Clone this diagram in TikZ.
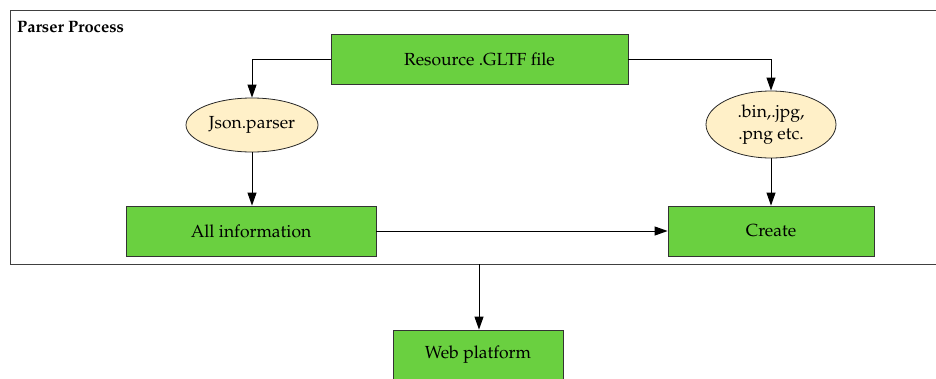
\documentclass[tikz,border=0pt]{standalone}
\usepackage[T1]{fontenc}
\usepackage{mathpazo}
\usetikzlibrary{arrows.meta,shapes.geometric}
\definecolor{boxgreen}{RGB}{106,208,64}
\definecolor{ellfill}{RGB}{255,240,200}
\tikzset{
  greenbox/.style={draw=black!80, fill=boxgreen, line width=0.8pt, minimum height=50pt, inner sep=0pt, font=\fontsize{17.5}{21}\selectfont},
  ellnode/.style={draw=black!85, ellipse, fill=ellfill, line width=0.8pt, inner sep=0pt, font=\fontsize{17.5}{21.5}\selectfont, align=center},
  conn/.style={draw=black, line width=1pt, -{Triangle[length=13pt,width=9pt]}},
}
\begin{document}
\begin{tikzpicture}[x=1pt,y=-1pt]
\useasboundingbox (0,0) rectangle (936,378);
\clip (0,0) rectangle (936,378);
\draw[black!75, line width=0.9pt] (940,10) -- (10,10) -- (10,264) -- (940,264);
\node[anchor=west, font=\bfseries\fontsize{16.5}{19}\selectfont, inner sep=0pt] (title) at (17,27) {Parser Process};
\node[greenbox, minimum width=297pt] (res) at (479.5,59) {Resource .GLTF file};
\node[ellnode, minimum width=132pt, minimum height=54pt] (json) at (252,125) {Json.parser};
\node[ellnode, minimum width=130pt, minimum height=67pt] (bin) at (771,124.5) {.bin,.jpg,\\.png etc.};
\node[greenbox, minimum width=250pt] (all) at (251,231) {All information};
\node[greenbox, minimum width=206pt] (create) at (771,231) {Create};
\node[greenbox, minimum width=170pt] (web) at (478,355) {Web platform};
\coordinate (fb) at (479,264);
\draw[conn] (res.west) -| (json.north);
\draw[conn] (res.east) -| (bin.north);
\draw[conn] (json.south) -- (json.south |- all.north);
\draw[conn] (bin.south) -- (create.north);
\draw[conn] (all.east) -- (create.west);
\draw[conn] (fb) -- (web.north -| fb);
\end{tikzpicture}
\end{document}
